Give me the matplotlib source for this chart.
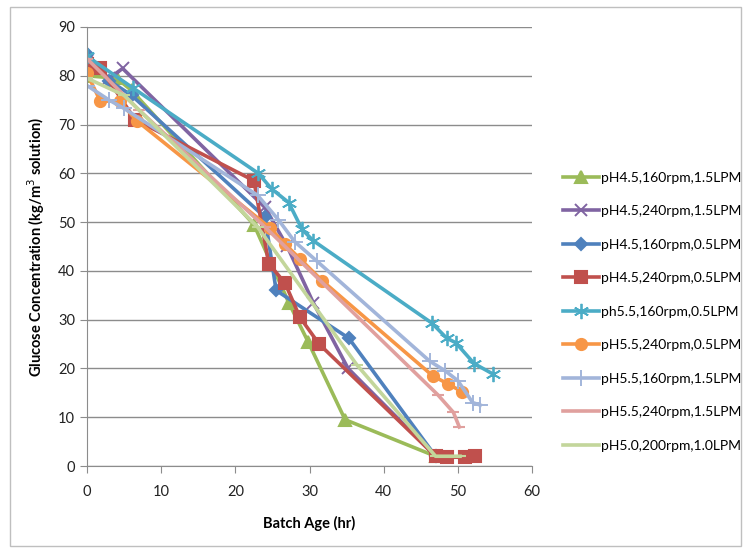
import matplotlib
matplotlib.use("Agg")
import matplotlib.pyplot as plt
from matplotlib.patches import Rectangle

plt.rcParams['font.family'] = ['Lato', 'DejaVu Sans']

# batch age (hr) and glucose (kg/m3) for each run
labels = [
    "pH4.5,160rpm,1.5LPM",
    "pH4.5,240rpm,1.5LPM",
    "pH4.5,160rpm,0.5LPM",
    "pH4.5,240rpm,0.5LPM",
    "ph5.5,160rpm,0.5LPM",
    "pH5.5,240rpm,0.5LPM",
    "pH5.5,160rpm,1.5LPM",
    "pH5.5,240rpm,1.5LPM",
    "pH5.0,200rpm,1.0LPM",
]

x1 = [0, 4, 6, 22.5, 27.2, 29.8, 34.8, 47]
y1 = [80, 79.5, 77, 49.5, 33.5, 25.5, 9.5, 2]

x2 = [0, 3, 4.8, 24, 27, 30.5, 35.2, 47]
y2 = [83, 79.5, 81.5, 53, 45, 33.5, 20, 2]

x3 = [0, 3, 6, 24, 25.5, 35.3, 47]
y3 = [84.5, 79, 76, 51, 36, 26.2, 2]

x4 = [0, 1.8, 6.5, 22.5, 24.5, 26.7, 28.7, 31.3, 47, 48.5, 51, 52.3]
y4 = [82.5, 81.6, 71, 58.5, 41.5, 37.5, 30.5, 25, 2, 1.8, 1.8, 2]

x5 = [0, 6.2, 23.1, 24.9, 27.2, 29, 30.5, 46.5, 48.5, 49.7, 52.2, 54.8]
y5 = [84, 77.5, 60, 56.8, 54, 48.5, 46.2, 29.3, 26.2, 25.3, 21, 18.8]

x6 = [0, 1.8, 4.4, 6.7, 24.7, 26.7, 28.7, 31.7, 46.6, 48.7, 50.6]
y6 = [80.5, 74.8, 74.8, 70.8, 48.8, 45.5, 42.5, 38, 18.5, 16.8, 15.2]

x7 = [0, 3, 5, 23, 25.8, 28, 31, 46.2, 48.3, 50, 52, 53]
y7 = [78, 75, 73.3, 55.5, 50.5, 46, 42, 21.5, 19.5, 17.5, 13, 12.5]

x8 = [0, 7, 24, 47.3, 49.4, 50.2]
y8 = [83.5, 73, 49, 14.6, 11, 8]

x9 = [0, 5, 23, 36.4, 47, 50.3]
y9 = [79.5, 76, 49, 20.7, 2, 2]

xs = [x1, x2, x3, x4, x5, x6, x7, x8, x9]
ys = [y1, y2, y3, y4, y5, y6, y7, y8, y9]
colors = ["#9BBB59", "#8064A2", "#4F81BD", "#C0504D", "#4BACC6",
          "#F79646", "#A2B5DA", "#E0A09E", "#C3D69B"]
# excel "star" marker is an x with a vertical bar -> 6 spoke asterisk
markers = ["^", "x", "D", "s", (6, 2, 0), "o", "+", "_", "_"]
msizes = [8, 9, 6, 8, 11, 8, 11, 9, 9]
mews = [1.5, 1.4, 1.5, 1.5, 1.3, 1.5, 1.4, 1.5, 1.5]

fig = plt.figure(figsize=(7.49, 5.51), dpi=100)
ax = fig.add_axes([87 / 749, 1 - 466 / 551, 445 / 749, 439 / 551])

for i in range(len(xs)):
    ax.plot(xs[i], ys[i], color=colors[i], lw=2.6, marker=markers[i],
            ms=msizes[i], mew=mews[i], mfc=colors[i], mec=colors[i],
            label=labels[i])

ax.set_xlim(0, 60)
ax.set_ylim(0, 90)
ax.set_xticks(range(0, 61, 10))
ax.set_yticks(range(0, 91, 10))
ax.yaxis.grid(True, color="#8C8C8C", lw=1)
ax.set_axisbelow(True)
for s in ["top", "right"]:
    ax.spines[s].set_visible(False)
for s in ["left", "bottom"]:
    ax.spines[s].set_color("#8C8C8C")
ax.tick_params(direction="out", length=5, color="#8C8C8C", labelsize=10.5,
               labelcolor="#222222")
ax.tick_params(axis="x", pad=9)
ax.set_xlabel("Batch Age (hr)", fontsize=10.5, fontweight="bold", labelpad=12)
ax.set_ylabel("Glucose Concentration (kg/m$^3$ solution)", fontsize=10.5,
              fontweight="bold", labelpad=8)

fig.legend(loc="upper left", bbox_to_anchor=(557 / 749, 1 - 166 / 551),
           frameon=False, fontsize=10, labelspacing=1.55, handlelength=2.6,
           handletextpad=0.2, borderaxespad=0)

fig.patches.append(Rectangle((10 / 749, 5 / 551), 731 / 749, 539 / 551,
                             transform=fig.transFigure, fill=False,
                             edgecolor="#BFBFBF", lw=1))

fig.savefig("out.png", dpi=100)
